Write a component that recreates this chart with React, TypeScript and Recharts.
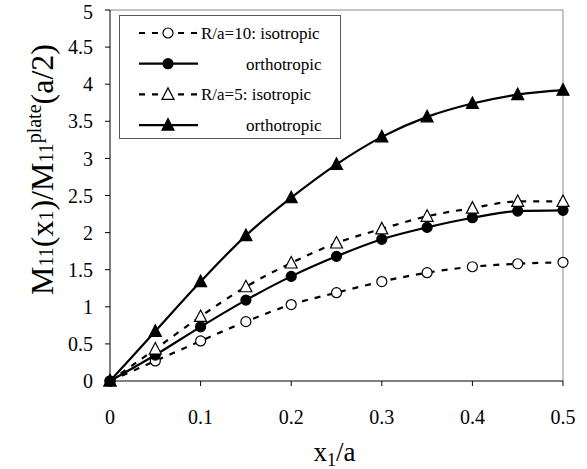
import { LineChart, Line, XAxis, YAxis, ReferenceLine } from "recharts";

const xValues = [0, 0.05, 0.1, 0.15, 0.2, 0.25, 0.3, 0.35, 0.4, 0.45, 0.5];
const iso10 = [0, 0.27, 0.54, 0.8, 1.03, 1.19, 1.34, 1.46, 1.54, 1.58, 1.6];
const ortho10 = [0, 0.35, 0.73, 1.09, 1.41, 1.68, 1.91, 2.07, 2.2, 2.29, 2.3];
const iso5 = [0, 0.43, 0.87, 1.27, 1.59, 1.86, 2.05, 2.22, 2.33, 2.42, 2.42];
const ortho5 = [0, 0.67, 1.34, 1.96, 2.47, 2.92, 3.29, 3.56, 3.74, 3.86, 3.92];

const xTicks = [0, 0.1, 0.2, 0.3, 0.4, 0.5];
const yTicks = [0, 0.5, 1, 1.5, 2, 2.5, 3, 3.5, 4, 4.5, 5];

const legendRows = [
  { label: "R/a=10: isotropic", marker: "circle", filled: false, dashed: true },
  { label: "orthotropic", marker: "circle", filled: true, dashed: false },
  { label: "R/a=5: isotropic", marker: "triangle", filled: false, dashed: true },
  { label: "orthotropic", marker: "triangle", filled: true, dashed: false },
];

const data = xValues.map((x, i) => ({
  x,
  iso10: iso10[i],
  ortho10: ortho10[i],
  iso5: iso5[i],
  ortho5: ortho5[i],
}));

const FONT = "Liberation Serif, serif";
const DASH = "6 7";

function Marker({ cx, cy, kind, filled }: { cx: number; cy: number; kind: string; filled: boolean }) {
  const fill = filled ? "#000" : "#fff";
  if (kind === "circle") {
    return <circle cx={cx} cy={cy} r={5} fill={fill} stroke="#000" strokeWidth={1.2} />;
  }
  return (
    <polygon
      points={`${cx},${cy - 6.5} ${cx - 6},${cy + 5} ${cx + 6},${cy + 5}`}
      fill={fill}
      stroke="#000"
      strokeWidth={1.2}
    />
  );
}

const dotFor = (kind: string, filled: boolean) => (props: any) => {
  const { cx, cy, index } = props;
  return (
    <g key={`${kind}-${filled}-${index}`}>
      <Marker cx={cx} cy={cy} kind={kind} filled={filled} />
    </g>
  );
};

function XLabel(props: any) {
  const vb = props.viewBox || { x: 110, y: 381, width: 453, height: 40 };
  return (
    <text
      x={vb.x + vb.width / 2 - 2}
      y={vb.y + 80}
      textAnchor="middle"
      style={{ fontFamily: FONT }}
      fontSize={27}
      fill="#000"
    >
      x
      <tspan fontSize={18} dy={5}>1</tspan>
      <tspan fontSize={27} dy={-5}>/a</tspan>
    </text>
  );
}

function YLabel(props: any) {
  const vb = props.viewBox || { x: 50, y: 10, width: 60, height: 371 };
  const cx = vb.x + 3;
  const cy = vb.y + vb.height / 2 - 26;
  return (
    <text
      transform={`translate(${cx},${cy}) rotate(-90)`}
      textAnchor="middle"
      style={{ fontFamily: FONT }}
      fontSize={32}
      fill="#000"
    >
      M<tspan fontSize={20}>11</tspan>(x<tspan fontSize={20}>1</tspan>)/M<tspan fontSize={20}>11</tspan>
      <tspan fontSize={20} dy={-12}>plate</tspan>
      <tspan dy={12}>(a/2)</tspan>
    </text>
  );
}

function LegendBox() {
  return (
    <div
      style={{
        position: "absolute",
        left: 119,
        top: 15,
        width: 220,
        height: 122,
        border: "1px solid #555",
        background: "#fff",
        fontFamily: FONT,
      }}
    >
      <svg width={220} height={122}>
        {legendRows.map((row, i) => {
          const y = 17 + i * 30.7;
          return (
            <g key={i}>
              <line
                x1={19}
                x2={78}
                y1={y}
                y2={y}
                stroke="#000"
                strokeWidth={2.2}
                strokeDasharray={row.dashed ? "6 7" : undefined}
              />
              <Marker cx={48} cy={y} kind={row.marker} filled={row.filled} />
              <text x={row.dashed ? 81 : 126} y={y + 6} fontSize={17} style={{ fontFamily: FONT }} fill="#000">
                {row.label}
              </text>
            </g>
          );
        })}
      </svg>
    </div>
  );
}

export default function App() {
  return (
    <div
      style={{
        position: "absolute",
        left: 0,
        top: 0,
        width: 587,
        height: 469,
        background: "#fff",
        fontFamily: FONT,
      }}
    >
      <LineChart
        width={587}
        height={469}
        data={data}
        margin={{ top: 10, right: 24, left: 50, bottom: 48 }}
        style={{ fontFamily: FONT }}
      >
        <ReferenceLine y={5} stroke="#888" strokeWidth={1} ifOverflow="visible" />
        <ReferenceLine x={0.5} stroke="#888" strokeWidth={1} ifOverflow="visible" />
        <XAxis
          dataKey="x"
          type="number"
          domain={[0, 0.5]}
          ticks={xTicks}
          height={40}
          stroke="#000"
          tickSize={5}
          tickMargin={24}
          tick={{ fill: "#000", fontSize: 20, fontFamily: FONT }}
          label={{ content: XLabel }}
        />
        <YAxis
          type="number"
          domain={[0, 5]}
          ticks={yTicks}
          width={60}
          stroke="#000"
          tickSize={5}
          tickMargin={12}
          tick={{ fill: "#000", fontSize: 20, fontFamily: FONT }}
          label={{ content: YLabel }}
        />
        <Line
          type="monotone"
          dataKey="iso10"
          stroke="#000"
          strokeWidth={2.2}
          strokeDasharray={DASH}
          dot={dotFor("circle", false)}
          isAnimationActive={false}
        />
        <Line
          type="monotone"
          dataKey="ortho10"
          stroke="#000"
          strokeWidth={2.2}
          dot={dotFor("circle", true)}
          isAnimationActive={false}
        />
        <Line
          type="monotone"
          dataKey="iso5"
          stroke="#000"
          strokeWidth={2.2}
          strokeDasharray={DASH}
          dot={dotFor("triangle", false)}
          isAnimationActive={false}
        />
        <Line
          type="monotone"
          dataKey="ortho5"
          stroke="#000"
          strokeWidth={2.2}
          dot={dotFor("triangle", true)}
          isAnimationActive={false}
        />
      </LineChart>
      <LegendBox />
    </div>
  );
}
